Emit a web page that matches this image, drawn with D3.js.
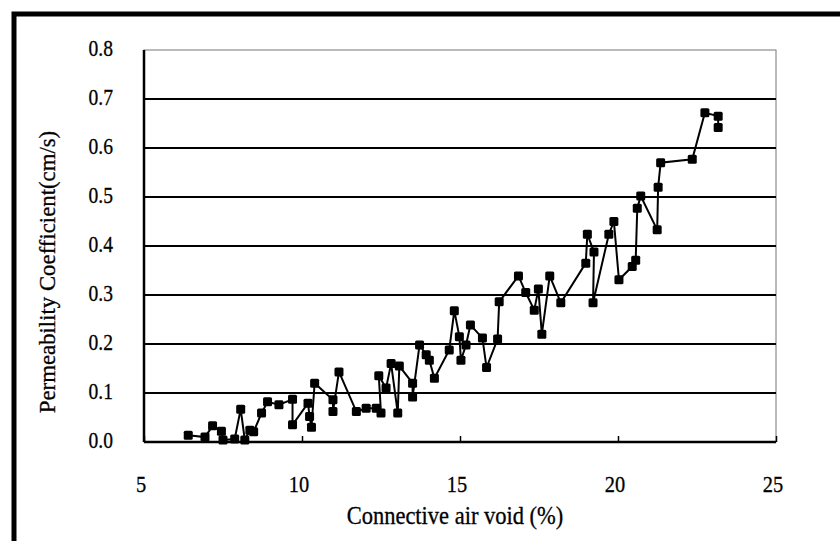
<!DOCTYPE html>
<html>
<head>
<meta charset="utf-8">
<script src="https://cdn.jsdelivr.net/npm/d3@7"></script>
<style>
  body { margin:0; background:#fff; }
  text { font-family: "Liberation Serif", "DejaVu Serif", serif; fill:#000; stroke:#000; stroke-width:0.3px; }
</style>
</head>
<body>
<svg id="chart" width="840" height="541"></svg>
<script>
// connective air void (%)
var airVoid = [6.40,6.93,7.17,7.45,7.50,7.87,8.06,8.19,8.35,8.47,8.72,8.91,9.27,9.70,9.70,
  10.19,10.24,10.30,10.40,10.98,10.98,11.17,11.72,12.03,12.35,12.50,12.43,12.66,12.82,13.03,
  13.08,13.50,13.50,13.72,13.93,14.03,14.19,14.66,14.82,14.98,15.03,15.19,15.33,15.71,15.84,
  16.19,16.24,16.85,17.08,17.35,17.48,17.59,17.84,18.19,18.98,19.03,19.24,19.21,19.71,19.87,
  20.03,20.45,20.56,20.61,20.72,21.24,21.27,21.35,22.35,22.75,23.17,23.17];
// permeability coefficient (cm/s)
var permeability = [0.014,0.010,0.033,0.022,0.004,0.006,0.067,0.004,0.024,0.021,0.059,0.082,0.076,0.087,0.035,
  0.079,0.052,0.030,0.120,0.086,0.062,0.143,0.062,0.069,0.069,0.059,0.135,0.110,0.160,0.059,
  0.155,0.120,0.092,0.198,0.178,0.167,0.130,0.188,0.268,0.215,0.167,0.198,0.239,0.212,0.152,
  0.210,0.286,0.339,0.305,0.269,0.312,0.220,0.339,0.284,0.365,0.424,0.388,0.284,0.424,0.450,
  0.331,0.358,0.371,0.477,0.502,0.433,0.520,0.570,0.577,0.672,0.665,0.642];
var xTicks = [5,10,15,20,25];
var yTicks = [0,0.1,0.2,0.3,0.4,0.5,0.6,0.7,0.8];

var svg = d3.select('#chart');
var pts = airVoid.map(function(v,i){ return [v, permeability[i]]; });

var x = d3.scaleLinear().domain([5,25]).range([144,776]);
var y = d3.scaleLinear().domain([0,0.8]).range([442,50]);

// outer frame (left and top only, like the cropped figure)
svg.append('path').attr('d','M14,541 V14 H840')
  .style('fill','none').style('stroke','#000').style('stroke-width',5);

// plot box
svg.append('rect').attr('x',144).attr('y',50).attr('width',632).attr('height',392)
  .style('fill','none').style('stroke','#777').style('stroke-width',1);

// gridlines
svg.append('g').selectAll('line').data(yTicks.filter(function(d){return d>0 && d<0.8;}))
  .enter().append('line')
  .attr('x1',144).attr('x2',776)
  .attr('y1',function(d){return y(d);}).attr('y2',function(d){return y(d);})
  .style('stroke','#000').style('stroke-width',2);

// axes
var xAxis = svg.append('g').attr('transform','translate(0,442)')
  .call(d3.axisTop(x).tickValues(xTicks).tickSize(6).tickFormat(''));
xAxis.select('.domain').remove();
xAxis.selectAll('line').style('stroke','#000').style('stroke-width',1.5);
svg.append('line').attr('x1',144).attr('x2',776).attr('y1',442).attr('y2',442)
  .style('stroke','#000').style('stroke-width',2.5);
svg.append('line').attr('x1',144).attr('x2',144).attr('y1',50).attr('y2',442)
  .style('stroke','#000').style('stroke-width',2.5);

// tick labels
svg.append('g').selectAll('text').data(xTicks).enter().append('text')
  .attr('transform',function(d){return 'translate('+(x(d)-3)+',492) scale(0.85,1)';})
  .style('text-anchor','middle').style('font-size','24px')
  .text(function(d){return d;});
svg.append('g').selectAll('text').data(yTicks).enter().append('text')
  .attr('transform',function(d){return 'translate(113,'+(y(d)+6)+') scale(0.85,1)';})
  .style('text-anchor','end').style('font-size','23px')
  .text(function(d){return d.toFixed(1);});

// axis titles
svg.append('text').attr('transform','translate(455,524) scale(0.9,1)')
  .style('text-anchor','middle').style('font-size','25px')
  .text('Connective air void (%)');
svg.append('text').attr('transform','translate(55,272) rotate(-90) scale(0.95,1)')
  .style('text-anchor','middle').style('font-size','24px')
  .text('Permeability Coefficient(cm/s)');

// series
var line = d3.line().x(function(d){return x(d[0]);}).y(function(d){return y(d[1]);});
svg.append('path').datum(pts).attr('d',line)
  .style('fill','none').style('stroke','#000').style('stroke-width',2);
svg.append('g').selectAll('rect').data(pts).enter().append('rect')
  .attr('x',function(d){return x(d[0])-4.5;})
  .attr('y',function(d){return y(d[1])-4.5;})
  .attr('width',9).attr('height',9).attr('rx',1.5)
  .style('fill','#000');
</script>
</body>
</html>
